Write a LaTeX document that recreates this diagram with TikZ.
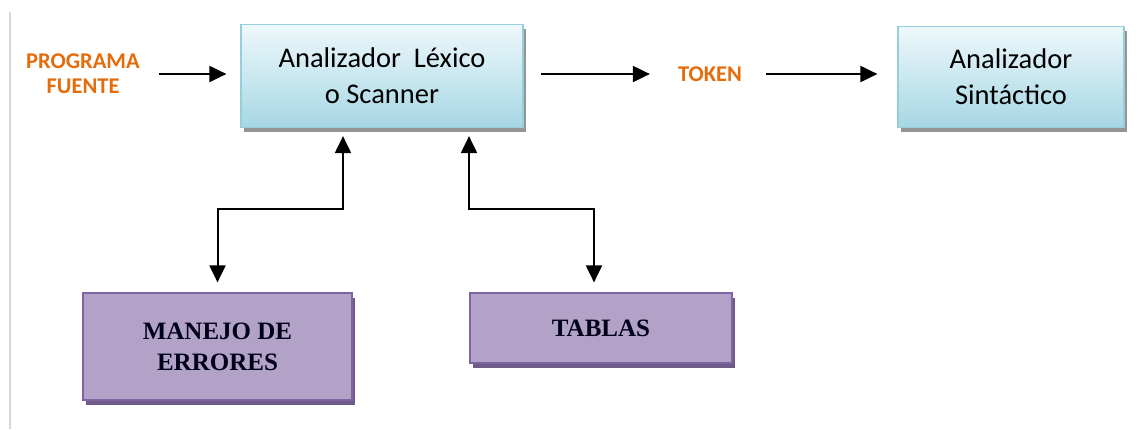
\documentclass[tikz,border=0pt]{standalone}
\usepackage{fontspec}
\newfontfamily\calib{Carlito}
\newfontfamily\camb{Liberation Serif}
\usetikzlibrary{arrows.meta,shadows,calc}
\definecolor{orng}{HTML}{E46C0A}
\definecolor{blueT}{HTML}{EEF8FB}
\definecolor{blueB}{HTML}{A6D7E4}
\definecolor{bordB}{HTML}{96CEDC}
\definecolor{purpF}{HTML}{B3A2C7}
\definecolor{purpD}{HTML}{8064A2}
\definecolor{purpS}{HTML}{5F497A}
\definecolor{edgeG}{HTML}{D6D6D6}
\begin{document}
\begin{tikzpicture}[x=1pt,y=-1pt,
  bluebox/.style={draw=bordB, line width=1.2pt, top color=blueT, bottom color=blueB,
    drop shadow={shadow xshift=3pt, shadow yshift=-4pt, fill=black!60, opacity=0.7},
    align=center, inner sep=0pt, font=\calib\fontsize{28.5}{36}\selectfont},
  purpbox/.style={draw=purpD, line width=1.2pt, fill=purpF,
    drop shadow={shadow xshift=3pt, shadow yshift=-5pt, fill=purpS, opacity=0.9},
    align=center, inner sep=0pt, font=\camb\bfseries\fontsize{25}{31}\selectfont, text=black!90!blue},
  lbl/.style={text=orng, align=center, inner sep=0pt, font=\calib\bfseries\fontsize{22.5}{25}\selectfont},
  arr/.style={line width=2pt, -{Triangle[length=17pt,width=16pt]}},
  dbl/.style={line width=2pt, {Triangle[length=17pt,width=16pt]}-{Triangle[length=17pt,width=16pt]}}
]
\useasboundingbox (0,0) rectangle (1138,429);
% left edge line
\draw[edgeG, line width=2pt] (10,12) -- (10,429);

\node[bluebox, minimum width=282pt, minimum height=103pt] (lex) at (382,76)
  {Analizador~~Léxico\\o Scanner};
\node[bluebox, minimum width=226pt, minimum height=101pt] (sin) at (1011,77)
  {Analizador\\Sintáctico};
\node[purpbox, minimum width=269pt, minimum height=107pt] (err) at (217.5,346.5)
  {MANEJO DE\\ERRORES};
\node[purpbox, minimum width=262pt, minimum height=70pt] (tab) at (601,328)
  {TABLAS};

\node[lbl] (pf) at (83,74) {PROGRAMA\\FUENTE};
\node[lbl] (tok) at (710,74) {TOKEN};

\coordinate (j1) at (343,209);
\coordinate (j2) at (469,209);
\coordinate (j3) at (594,209);

\draw[arr, shorten <=19pt, shorten >=14pt] (pf.east) -- (pf.east -| lex.west);
\draw[arr, shorten <=17pt, shorten >=28pt] (lex.east |- tok) -- (tok.west);
\draw[arr, shorten <=24pt, shorten >=20pt] (tok.east) -- (tok.east -| sin.west);

\draw[dbl, shorten <=8pt, shorten >=10pt] (lex.south -| j1) -- (j1) -| (err.north);
\draw[dbl, shorten <=8pt, shorten >=10pt] (lex.south -| j2) -- (j2) -- (j3) -- (j3 |- tab.north);
\end{tikzpicture}
\end{document}
